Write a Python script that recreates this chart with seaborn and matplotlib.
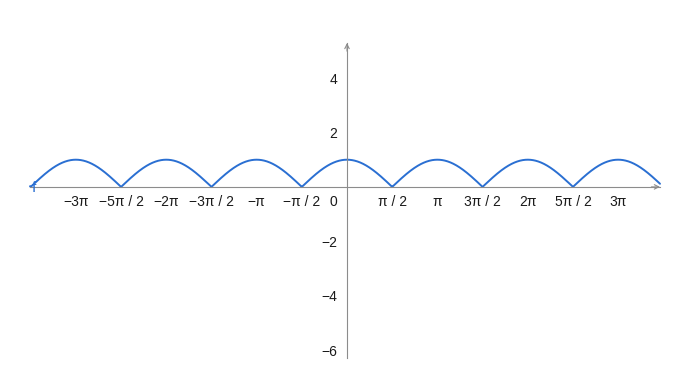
import numpy as np
import pandas as pd
import matplotlib
matplotlib.use("Agg")
import matplotlib.pyplot as plt
import seaborn as sns

# ---- data -------------------------------------------------------------
x_min, x_max = -11.02, 10.88
y_min, y_max = -6.29, 5.29
x_tick_multiples = [-6, -5, -4, -3, -2, -1, 1, 2, 3, 4, 5, 6]   # multiples of pi/2
x_tick_labels = ["−3π", "−5π / 2", "−2π", "−3π / 2", "−π", "−π / 2",
                 "π / 2", "π", "3π / 2", "2π", "5π / 2", "3π"]
y_ticks = [-6, -4, -2, 2, 4]
y_tick_labels = ["−6", "−4", "−2", "2", "4"]
func_name = "f"

xs = np.linspace(x_min, x_max, 2000)
df = pd.DataFrame({"x": xs, "y": np.abs(np.cos(xs))})

# ---- style ------------------------------------------------------------
sns.set_style("white")
plt.rcParams["font.family"] = ["Liberation Sans", "DejaVu Sans"]
axis_color = "#8c8c8c"
curve_color = "#2a6fd2"
text_color = "#1a1a1a"
fs = 10

fig = plt.figure(figsize=(6.84, 3.67), dpi=100)
W, H = 684, 367
ax = fig.add_axes([30 / W, (H - 358) / H, 630 / W, 315 / H])
ax.set_xlim(x_min, x_max)
ax.set_ylim(y_min, y_max)

sns.lineplot(data=df, x="x", y="y", ax=ax, color=curve_color, linewidth=1.4,
             clip_on=False)

for s in ["top", "right"]:
    ax.spines[s].set_visible(False)
for s in ["left", "bottom"]:
    ax.spines[s].set_position(("data", 0))
    ax.spines[s].set_color(axis_color)
    ax.spines[s].set_linewidth(0.8)

ax.set_xticks([m * np.pi / 2 for m in x_tick_multiples])
ax.set_xticklabels(x_tick_labels)
ax.set_yticks(y_ticks)
ax.set_yticklabels(y_tick_labels)
ax.tick_params(axis="both", direction="out", length=3, width=0.8,
               color=axis_color, labelsize=fs, labelcolor=text_color)
ax.tick_params(axis="x", pad=3)
ax.tick_params(axis="y", pad=4)
ax.set_xlabel("")
ax.set_ylabel("")

# origin label
ax.annotate("0", xy=(0, 0), xytext=(-7, -6), textcoords="offset points",
            ha="right", va="top", fontsize=fs, color=text_color)

# axis arrows
ax.annotate("", xy=(x_max, 0), xytext=(x_max - 0.3, 0),
            arrowprops=dict(arrowstyle="->", color=axis_color, lw=0.8,
                            mutation_scale=8, shrinkA=0, shrinkB=0),
            annotation_clip=False)
ax.annotate("", xy=(0, y_max), xytext=(0, y_max - 0.3),
            arrowprops=dict(arrowstyle="->", color=axis_color, lw=0.8,
                            mutation_scale=8, shrinkA=0, shrinkB=0),
            annotation_clip=False)

# function label
ax.annotate(func_name, xy=(x_min, 0), xytext=(1, -1), textcoords="offset points",
            ha="left", va="center", fontsize=11, color=curve_color,
            annotation_clip=False)

fig.savefig("out.png", dpi=100)
